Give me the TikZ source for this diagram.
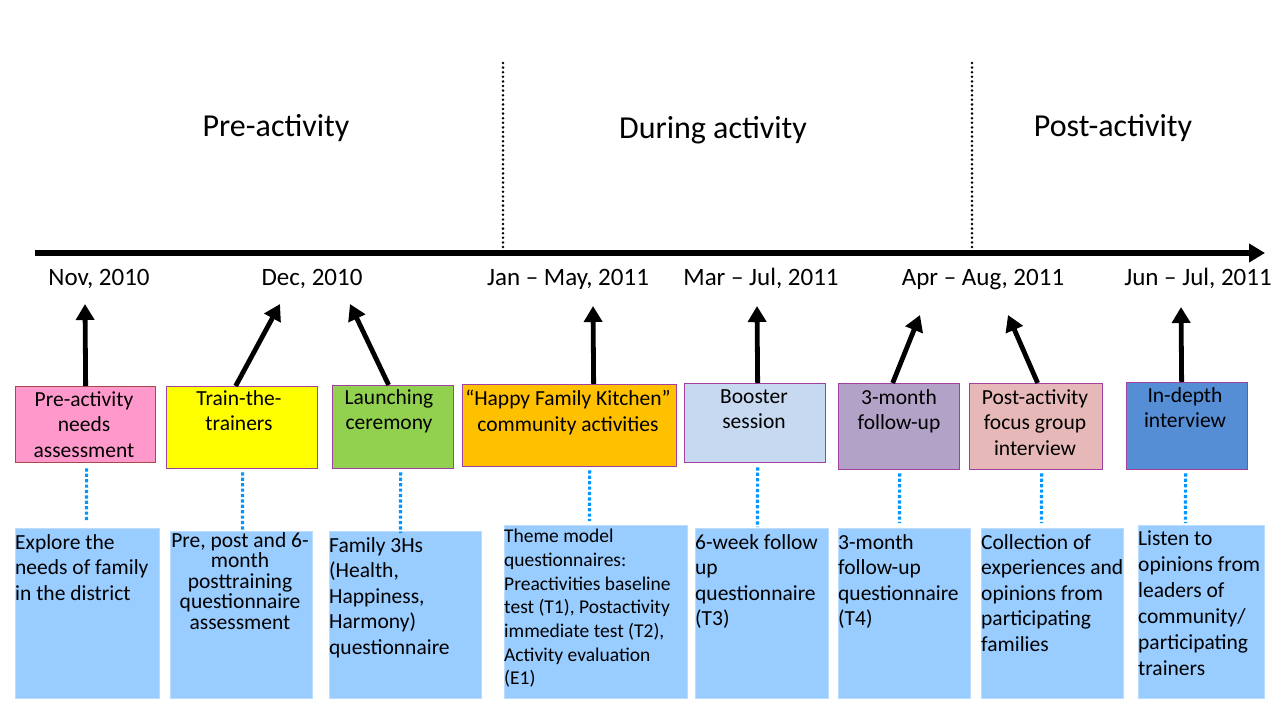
\documentclass[tikz,border=0pt]{standalone}
\usepackage{fontspec}
\setmainfont{Carlito}
\usetikzlibrary{arrows.meta}
\definecolor{pinkfill}{HTML}{FF99CC}
\definecolor{pinkdraw}{HTML}{A5494A}
\definecolor{purpdraw}{HTML}{A040A0}
\definecolor{yellowfill}{HTML}{FFFF00}
\definecolor{greenfill}{HTML}{92D050}
\definecolor{orangefill}{HTML}{FFC000}
\definecolor{lbluefill}{HTML}{C6D9F1}
\definecolor{purplefill}{HTML}{B3A2C7}
\definecolor{rosefill}{HTML}{E6B9B8}
\definecolor{bluefill}{HTML}{558ED5}
\definecolor{notefill}{HTML}{99CCFF}
\definecolor{notedraw}{HTML}{BBDCFF}
\definecolor{dotblue}{HTML}{0095FF}
\begin{document}
\begin{tikzpicture}[x=1pt,y=-1pt,
  topbox/.style={draw=purpdraw, line width=1.3pt, inner sep=0pt, anchor=north west},
  notebox/.style={draw=notedraw, line width=1pt, fill=notefill, inner sep=0pt, anchor=north west},
  toptext/.style={anchor=north, align=center, inner sep=0pt, font=\fontsize{21.5}{25.5}\selectfont,
    execute at begin node=\rule{0pt}{17pt}},
  notetext/.style={anchor=north west, align=left, inner sep=0pt, font=\fontsize{21.5}{25.5}\selectfont,
    execute at begin node=\rule{0pt}{17pt}},
  phase/.style={anchor=base, inner sep=0pt, font=\fontsize{32}{38}\selectfont},
  datelbl/.style={anchor=base, inner sep=0pt, font=\fontsize{25}{30}\selectfont},
  arr/.style={line width=4.8pt, -{Triangle[length=16pt,width=18pt]}},
  kdot/.style={line width=2.8pt, line cap=round, dash pattern=on 0pt off 4.6pt},
  bdot/.style={draw=dotblue, line width=3.2pt, dash pattern=on 3.2pt off 2.2pt}
]
\useasboundingbox (0,0) rectangle (1278,702);

% dividers
\coordinate (v1a) at (503,63); \coordinate (v1b) at (503,248);
\coordinate (v2a) at (972,63); \coordinate (v2b) at (972,248);
\draw[kdot] (v1a) -- (v1b);
\draw[kdot] (v2a) -- (v2b);

% phase titles
\node[phase] (p1) at (276,136) {Pre-activity};
\node[phase] (p2) at (713,138) {During activity};
\node[phase] (p3) at (1113,136) {Post-activity};

% timeline
\coordinate (tl0) at (35,253);
\coordinate (tl1) at (1265,253);
\draw[line width=5.3pt, -{Triangle[length=16pt,width=18pt]}] (tl0) -- (tl1);

% dates
\node[datelbl] (l1) at (99,285) {Nov, 2010};
\node[datelbl] (l2) at (312,285) {Dec, 2010};
\node[datelbl] (l3) at (568,285) {Jan – May, 2011};
\node[datelbl] (l4) at (761,285) {Mar – Jul, 2011};
\node[datelbl] (l5) at (983,285) {Apr – Aug, 2011};
\node[datelbl] (l6) at (1198,285) {Jun – Jul, 2011};

% top boxes
\node[topbox, draw=pinkdraw, fill=pinkfill, minimum width=140pt, minimum height=76pt] (b1) at (15,386) {};
\node[topbox, fill=yellowfill, minimum width=151pt, minimum height=82pt] (b2) at (166,386) {};
\node[topbox, fill=greenfill, minimum width=121pt, minimum height=83pt] (b3) at (332,385) {};
\node[topbox, fill=orangefill, minimum width=214pt, minimum height=82pt] (b4) at (462,384) {};
\node[topbox, fill=lbluefill, minimum width=141pt, minimum height=79pt] (b5) at (684,383) {};
\node[topbox, fill=purplefill, minimum width=121pt, minimum height=86pt] (b6) at (838,383) {};
\node[topbox, fill=rosefill, minimum width=133pt, minimum height=86pt] (b7) at (969,383) {};
\node[topbox, fill=bluefill, minimum width=121pt, minimum height=87pt] (b8) at (1126,382) {};

\node[toptext] (t1) at (84,391) {Pre-activity\\needs\\assessment};
\node[toptext] (t2) at (239,390) {Train-the-\\trainers};
\node[toptext] (t3) at (389,389) {Launching\\ceremony};
\node[toptext] (t4) at (568,390) {“Happy Family Kitchen”\\community activities};
\node[toptext] (t5) at (754,389) {Booster\\session};
\node[toptext] (t6) at (899,389) {3-month\\follow-up};
\node[toptext] (t7) at (1035,389) {Post-activity\\focus group\\interview};
\node[toptext] (t8) at (1185,387) {In-depth\\interview};

% arrow tips
\coordinate (d1) at (85,304);
\coordinate (d2) at (280,304);
\coordinate (d3) at (350,304);
\coordinate (d4) at (593,306);
\coordinate (d5) at (757,306);
\coordinate (d6) at (920,315);
\coordinate (d7) at (1008,315);
\coordinate (d8) at (1181,307);
\draw[arr] (b1.north) -- (d1);
\draw[arr] ([xshift=-6.5pt]b2.north) -- (d2);
\draw[arr] ([xshift=-4.5pt]b3.north) -- (d3);
\draw[arr] ([xshift=24pt]b4.north) -- (d4);
\draw[arr] ([xshift=2.5pt]b5.north) -- (d5);
\draw[arr] ([xshift=-6.5pt]b6.north) -- (d6);
\draw[arr] ([xshift=1.5pt]b7.north) -- (d7);
\draw[arr] ([xshift=-5.5pt]b8.north) -- (d8);

% bottom boxes
\node[notebox, minimum width=144pt, minimum height=170pt] (c1) at (15,528) {};
\node[notebox, minimum width=142pt, minimum height=167pt] (c2) at (170,531) {};
\node[notebox, minimum width=152pt, minimum height=167pt] (c3) at (329,531) {};
\node[notebox, minimum width=183pt, minimum height=173pt] (c4) at (504,525) {};
\node[notebox, minimum width=133pt, minimum height=170pt] (c5) at (695,528) {};
\node[notebox, minimum width=132pt, minimum height=170pt] (c6) at (838,528) {};
\node[notebox, minimum width=142pt, minimum height=170pt] (c7) at (981,528) {};
\node[notebox, minimum width=126pt, minimum height=173pt] (c8) at (1138,525) {};

\node[notetext] (n1) at (15,534) {Explore the\\needs of family\\in the district};
\node[notetext, anchor=north, align=center, font=\fontsize{21.5}{20.5}\selectfont] (n2) at (240,532) {Pre, post and 6-\\month\\posttraining\\questionnaire\\assessment};
\node[notetext] (n3) at (329,537) {Family 3Hs\\(Health,\\Happiness,\\Harmony)\\questionnaire};
\node[notetext, font=\fontsize{19.5}{23.7}\selectfont, execute at begin node=\rule{0pt}{16pt}] (n4) at (504,529) {Theme model\\questionnaires:\\Preactivities baseline\\test (T1), Postactivity\\immediate test (T2),\\Activity evaluation\\(E1)};
\node[notetext] (n5) at (695,534) {6-week follow\\up\\questionnaire\\(T3)};
\node[notetext] (n6) at (838,534) {3-month\\follow-up\\questionnaire\\(T4)};
\node[notetext] (n7) at (981,534) {Collection of\\experiences and\\opinions from\\participating\\families};
\node[notetext, font=\fontsize{21.5}{26}\selectfont] (n8) at (1138,530) {Listen to\\opinions from\\leaders of\\community/\\participating\\trainers};

% blue dotted links
\draw[bdot] ([xshift=1pt,yshift=-5pt]b1.south) -- ([xshift=-1pt,yshift=6pt]c1.north);
\draw[bdot] ([xshift=0.5pt,yshift=-3pt]b2.south) -- ([xshift=1pt]c2.north);
\draw[bdot] ([xshift=7.5pt,yshift=-3pt]b3.south) -- ([xshift=-5pt,yshift=-2pt]c3.north);
\draw[bdot] ([xshift=20pt,yshift=-3pt]b4.south) -- ([xshift=-6.5pt,yshift=4pt]c4.north);
\draw[bdot] ([xshift=2.5pt,yshift=-4pt]b5.south) -- ([xshift=-4.5pt,yshift=1pt]c5.north);
\draw[bdot] ([xshift=0.5pt,yshift=-3pt]b6.south) -- ([xshift=-5pt,yshift=5pt]c6.north);
\draw[bdot] ([xshift=5.5pt,yshift=-3pt]b7.south) -- ([xshift=-11pt,yshift=5pt]c7.north);
\draw[bdot] ([xshift=-1.5pt,yshift=-3pt]b8.south) -- ([xshift=-16pt,yshift=2pt]c8.north);
\end{tikzpicture}
\end{document}
